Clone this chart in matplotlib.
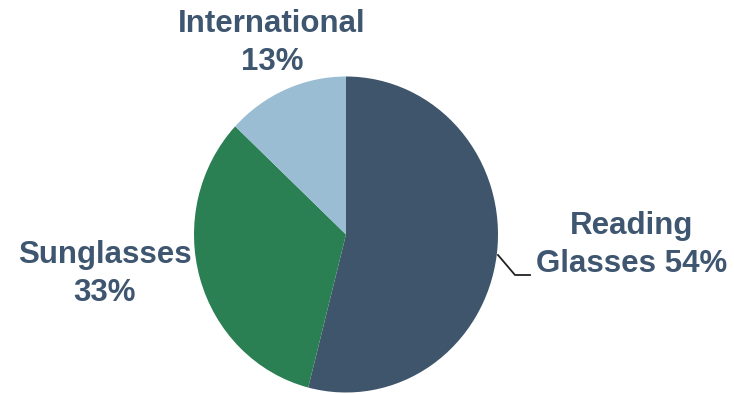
import matplotlib.pyplot as plt
from matplotlib.lines import Line2D

plt.rcParams["font.family"] = ["Liberation Sans", "DejaVu Sans"]

categories = ["Reading\nGlasses", "Sunglasses", "International"]
shares = [54, 33, 13]
colors = ["#3F556B", "#2A7F53", "#9ABDD3"]
text_color = "#3F5670"

W, H = 734, 394
# pie geometry in pixels (slightly taller than wide, as in the source image)
cx, cy = 346, 234.5
rx, ry = 152, 158

fig = plt.figure(figsize=(W / 100, H / 100), dpi=100)
ax = fig.add_axes([0, 0, 1, 1])
ax.pie(
    shares,
    colors=colors,
    startangle=90,
    counterclock=False,
    radius=1,
    wedgeprops={"linewidth": 0},
)
ax.set_aspect("auto")
ax.set_xlim(-cx / rx, (W - cx) / rx)
ax.set_ylim(-(H - cy) / ry, cy / ry)
ax.axis("off")


def px(x, y):
    return x / W, 1 - y / H


label_style = dict(
    fontsize=22.5, fontweight="bold", color=text_color,
    ha="center", va="center", linespacing=1.32,
)
first, second = categories[0].split("\n")
fig.text(*px(632, 245), f"{first}\n{second} {shares[0]}%", **label_style)
fig.text(*px(105, 274), f"{categories[1]}\n{shares[1]}%", **label_style)
fig.text(*px(272, 43), f"{categories[2]}\n{shares[2]}%", **label_style)

# leader line for the right-hand label
lx = [498, 515, 530]
ly = [255, 275, 275]
fig.add_artist(Line2D([x / W for x in lx], [1 - y / H for y in ly],
                      transform=fig.transFigure, color="#222222", linewidth=1.3))

fig.savefig("out.png", dpi=100)
